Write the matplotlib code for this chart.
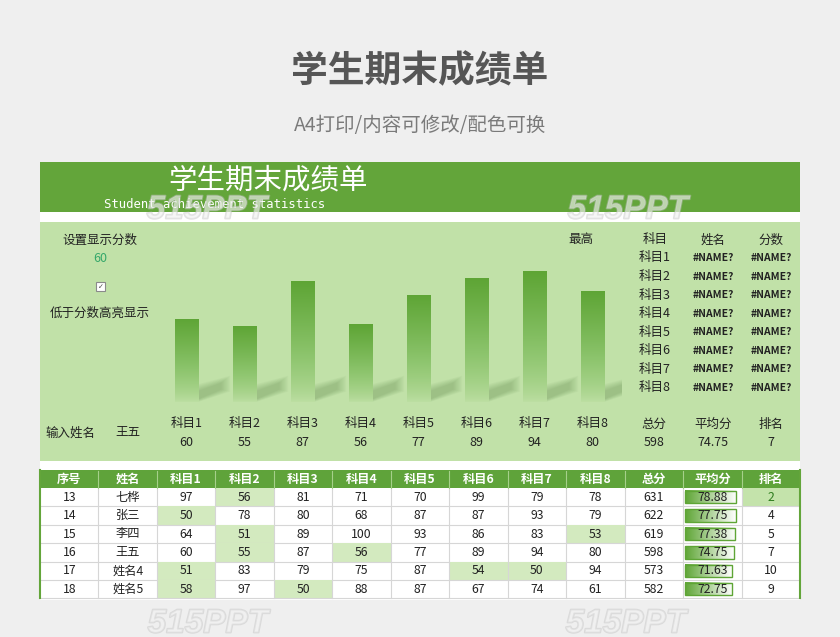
import matplotlib.pyplot as plt
import matplotlib.patheffects as pe
from matplotlib.patches import Rectangle, Polygon
from matplotlib.colors import LinearSegmentedColormap
import numpy as np

plt.rcParams['font.family'] = ['Noto Sans CJK SC', 'DejaVu Sans']

W, H = 840, 637

# --- dati ---
subjects = ['科目1', '科目2', '科目3', '科目4', '科目5', '科目6', '科目7', '科目8']
sel_name = '王五'
sel_scores = [60, 55, 87, 56, 77, 89, 94, 80]
sel_total = 598
sel_avg = '74.75'
sel_rank = 7
show_score = 60

top_header = ['科目', '姓名', '分数']
top_names = ['#NAME?'] * 8
top_scores = ['#NAME?'] * 8

ids = [13, 14, 15, 16, 17, 18]
names = ['七桦', '张三', '李四', '王五', '姓名4', '姓名5']
scores = [
    [97, 56, 81, 71, 70, 99, 79, 78],
    [50, 78, 80, 68, 87, 87, 93, 79],
    [64, 51, 89, 100, 93, 86, 83, 53],
    [60, 55, 87, 56, 77, 89, 94, 80],
    [51, 83, 79, 75, 87, 54, 50, 94],
    [58, 97, 50, 88, 87, 67, 74, 61],
]
totals = [631, 622, 619, 598, 573, 582]
avgs = [78.88, 77.75, 77.38, 74.75, 71.63, 72.75]
ranks = [2, 4, 5, 7, 10, 9]

GREEN = '#63a53a'
PANEL = '#c1e1a8'
HILITE = '#d3eabf'
DARK = '#222222'
FW = 'medium'

fig = plt.figure(figsize=(8.4, 6.37), dpi=100)
fig.patch.set_facecolor('#efefef')
ax = fig.add_axes([0, 0, 1, 1])
ax.set_xlim(0, W)
ax.set_ylim(H, 0)
ax.axis('off')

# titoli pagina
ax.text(420, 72, '学生期末成绩单', fontsize=26.5, fontweight='bold', color='#565656',
        ha='center', va='center')
ax.text(420, 126, 'A4打印/内容可修改/配色可换', fontsize=14, color='#7a7a7a',
        ha='center', va='center')

# foglio
ax.add_patch(Rectangle((40, 162), 760, 438, fc='white', ec='none'))
ax.add_patch(Rectangle((40, 162), 760, 50, fc=GREEN, ec='none'))
ax.add_patch(Rectangle((40, 222), 760, 239, fc=PANEL, ec='none'))
ax.text(268, 180, '学生期末成绩单', fontsize=20.5, color='white', ha='center', va='center')
ax.text(104, 204, 'Student achievement statistics', fontsize=8.8, color='white',
        family='DejaVu Sans Mono', ha='left', va='center')

# pannello sinistro
ax.text(100, 240, '设置显示分数', fontsize=9, fontweight=FW, color=DARK, ha='center', va='center')
ax.text(100, 258, str(show_score), fontsize=9, color='#35a86a', ha='center', va='center')
ax.add_patch(Rectangle((96, 282), 9, 9, fc='white', ec='#8a8a8a', lw=0.8))
ax.text(100.5, 286.5, '✓', fontsize=5, color='#444444', family='DejaVu Sans',
        ha='center', va='center')
ax.text(100, 313, '低于分数高亮显示', fontsize=9, fontweight=FW, color=DARK,
        ha='center', va='center')

# tabella in alto a destra
ax.text(581, 240, '最高', fontsize=9, fontweight=FW, color=DARK, ha='center', va='center')
hx = [655, 713, 771]
for x, t in zip(hx, top_header):
    ax.text(x, 240, t, fontsize=9, fontweight=FW, color=DARK, ha='center', va='center')
row_y = np.linspace(258, 388, 8)
for i, y in enumerate(row_y):
    ax.text(hx[0], y, subjects[i], fontsize=9, fontweight=FW, color=DARK,
            ha='center', va='center')
    ax.text(hx[1], y, top_names[i], fontsize=7.5, fontweight='bold', color=DARK,
            ha='center', va='center')
    ax.text(hx[2], y, top_scores[i], fontsize=7.5, fontweight='bold', color=DARK,
            ha='center', va='center')

# grafico a barre
bax = fig.add_axes([157.5 / W, (H - 402) / H, 464 / W, 139 / H])
bax.axis('off')
bax.patch.set_alpha(0)
xpos = np.arange(len(subjects))
bw = 0.41
for x in xpos:
    xr = x + bw / 2
    for k in range(8):
        d = k * 0.7
        poly = Polygon([(xr, 2 - d * 0.4), (xr + 0.4 + d * 0.03, 9 - d * 0.3),
                        (xr + 0.4 + d * 0.03, 14 + d), (xr, 8 + d)],
                       closed=True, fc='#3f6b2a', ec='none', alpha=0.035, zorder=1)
        bax.add_patch(poly)
bars = bax.bar(xpos, sel_scores, width=bw, color='none', edgecolor='none', zorder=2)
cmap = LinearSegmentedColormap.from_list('g', ['#bddfa3', '#8cc46c', '#5ea535'])
grad = np.linspace(0, 1, 256).reshape(-1, 1) ** 0.75
for b in bars:
    im = bax.imshow(grad, cmap=cmap, origin='lower', aspect='auto', zorder=3,
                    extent=[b.get_x(), b.get_x() + b.get_width(), 0, b.get_height()])
    im.set_clip_path(b)
bax.set_xlim(-0.5, 7.5)
bax.set_ylim(0, 100)

# etichette sotto il grafico
ax.text(70, 433, '输入姓名', fontsize=9, fontweight=FW, color=DARK, ha='center', va='center')
ax.text(128, 433, sel_name, fontsize=9, fontweight=FW, color=DARK, ha='center', va='center')
lab_x = 186.5 + 58 * xpos
for x, s, v in zip(lab_x, subjects, sel_scores):
    ax.text(x, 424, s, fontsize=9, fontweight=FW, color=DARK, ha='center', va='center')
    ax.text(x, 443, str(v), fontsize=9, color=DARK, ha='center', va='center')
for x, s, v in zip([654, 713, 771], ['总分', '平均分', '排名'],
                   [sel_total, sel_avg, sel_rank]):
    ax.text(x, 424, s, fontsize=9, fontweight=FW, color=DARK, ha='center', va='center')
    ax.text(x, 443, str(v), fontsize=9, color=DARK, ha='center', va='center')

# tabella in basso
headers = ['序号', '姓名'] + subjects + ['总分', '平均分', '排名']
cw = 760 / 13
top, hh, rh = 470, 18, 18.4
ax.add_patch(Rectangle((40, top), 760, hh, fc='#5fa33a', ec='none'))
for j, t in enumerate(headers):
    ax.text(40 + cw * (j + 0.5), top + hh / 2, t, fontsize=8.8, fontweight='bold',
            color='white', ha='center', va='center')
    if j > 0:
        ax.plot([40 + cw * j] * 2, [top + 1, top + hh], color='#a6d08a', lw=0.8)

bar_cmap = LinearSegmentedColormap.from_list('db', ['#5ea535', '#ffffff'])
for i in range(len(ids)):
    y0 = top + hh + rh * i
    yc = y0 + rh / 2
    cells = [ids[i], names[i]] + scores[i] + [totals[i], f'{avgs[i]:.2f}', ranks[i]]
    for j, c in enumerate(cells):
        x0 = 40 + cw * j
        color = DARK
        if 2 <= j <= 9 and c < show_score:
            ax.add_patch(Rectangle((x0, y0), cw, rh, fc=HILITE, ec='none'))
        if j == 12 and c <= 3:
            ax.add_patch(Rectangle((x0, y0), cw, rh, fc='#c4e3ab', ec='none'))
            color = '#2f7d1f'
        if j == 11:
            blen = avgs[i] / 90 * cw
            ax.imshow(np.linspace(0, 1, 256).reshape(1, -1), cmap=bar_cmap,
                      aspect='auto', extent=[x0 + 2, x0 + 2 + blen, y0 + rh - 3, y0 + 3],
                      zorder=2)
            ax.add_patch(Rectangle((x0 + 2, y0 + 3), blen, rh - 6, fc='none',
                                   ec='#5ea535', lw=1, zorder=3))
        ax.text(x0 + cw / 2, yc, str(c), fontsize=8.8, color=color,
                ha='center', va='center', zorder=4)
    ax.plot([40, 800], [y0 + rh] * 2, color='#d6d6d6', lw=0.8, zorder=1)
for j in range(1, 13):
    ax.plot([40 + cw * j] * 2, [top + hh, top + hh + rh * 6], color='#d6d6d6',
            lw=0.8, zorder=1)
for x in [40, 800]:
    ax.plot([x, x], [top, top + hh + rh * 6], color=GREEN, lw=1.5, zorder=5)

ax.set_xlim(0, W)
ax.set_ylim(H, 0)

# filigrana
for (wx, wy) in [(207, 210), (628, 210), (208, 624), (626, 624)]:
    ax.text(wx, wy, '515PPT', fontsize=24, fontweight='bold', fontstyle='italic',
            family='Liberation Sans', color='#f2f2f2', alpha=0.35, ha='center',
            va='center', zorder=10,
            path_effects=[pe.withStroke(linewidth=1.3, foreground='#c0c0c0', alpha=0.45)])

plt.savefig('out.png', dpi=100, facecolor=fig.get_facecolor())
